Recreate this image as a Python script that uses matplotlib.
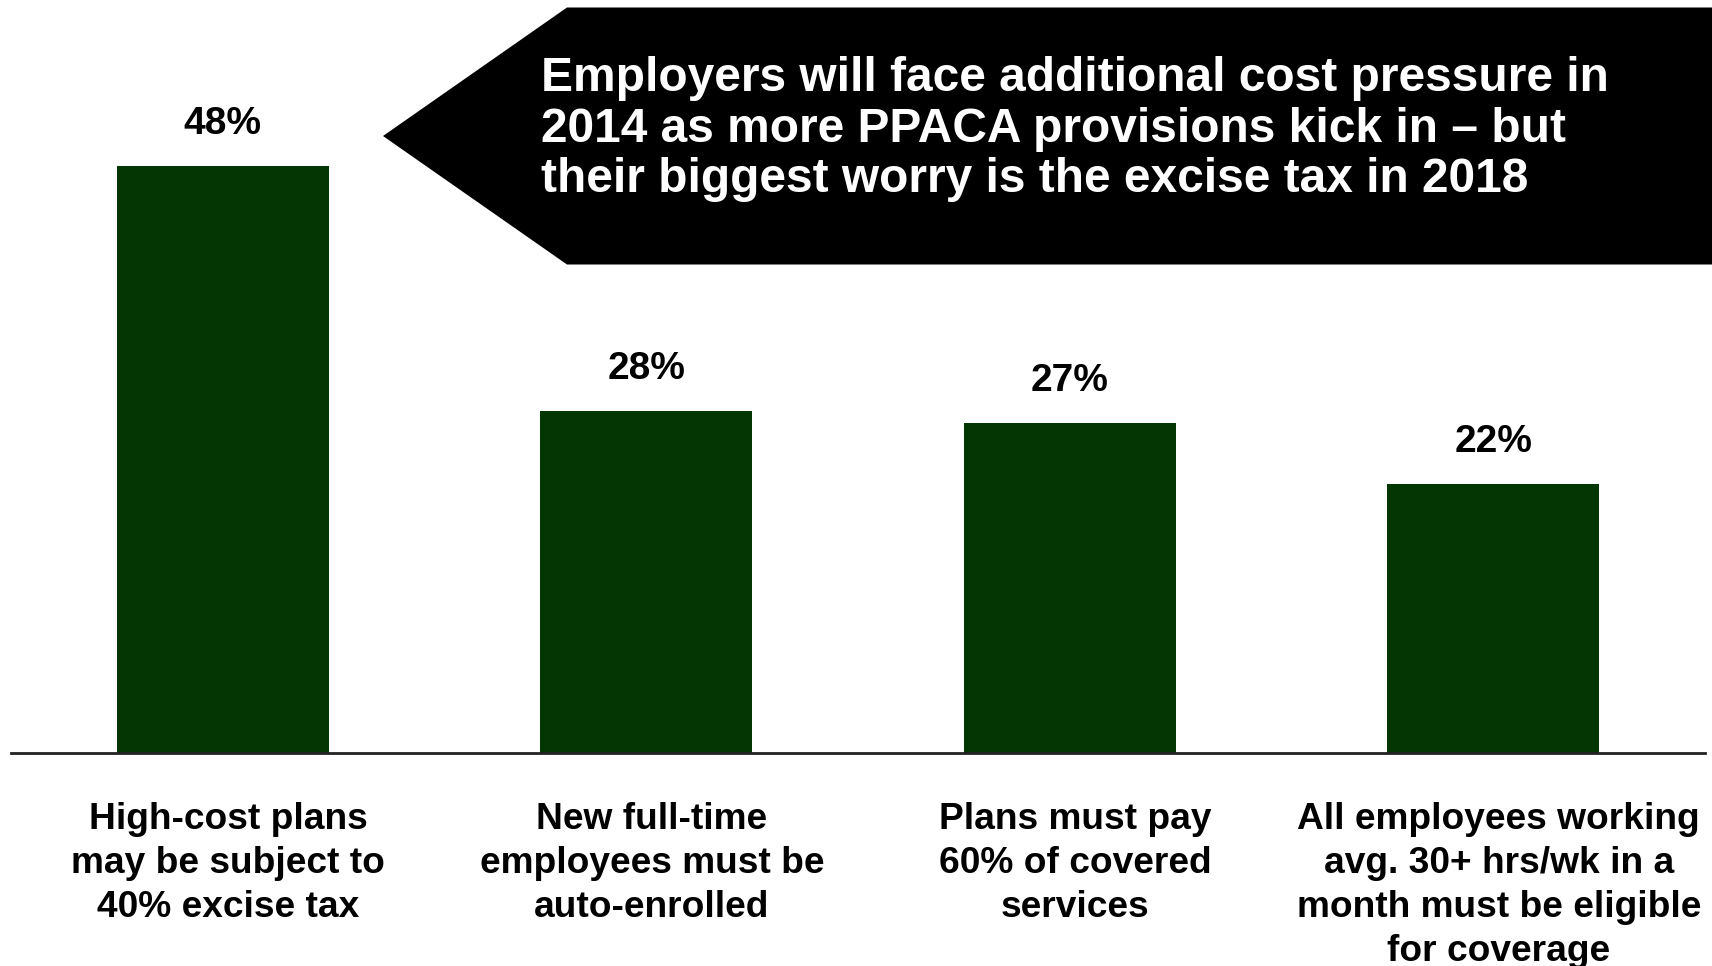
import matplotlib
matplotlib.use("Agg")
import matplotlib.pyplot as plt
from matplotlib.patches import Polygon
from matplotlib.transforms import ScaledTranslation

plt.rcParams['font.family'] = ['Liberation Sans', 'DejaVu Sans']
plt.rcParams['font.weight'] = 'bold'

categories = [
    "High-cost plans\nmay be subject to\n40% excise tax",
    "New full-time\nemployees must be\nauto-enrolled",
    "Plans must pay\n60% of covered\nservices",
    "All employees working\navg. 30+ hrs/wk in a\nmonth must be eligible\nfor coverage",
]
values = [48, 28, 27, 22]
value_labels = ["48%", "28%", "27%", "22%"]
callout = ("Employers will face additional cost pressure in\n"
           "2014 as more PPACA provisions kick in \u2013 but\n"
           "their biggest worry is the excise tax in 2018")

W, H = 1712, 966
fig = plt.figure(figsize=(W / 100, H / 100), dpi=100)
ax = fig.add_axes([11 / W, 1 - 753 / H, 1694 / W, 753 / H])

x = list(range(len(values)))
ax.bar(x, values, width=0.5, color='#033603')
ax.set_xlim(-0.5, 3.5)
ax.set_ylim(0, 753 / 12.23)

for xi, v, lab in zip(x, values, value_labels):
    ax.annotate(lab, (xi, v), xytext=(0, 30), textcoords='offset points',
                ha='center', va='center', fontsize=28, fontweight='bold')

ax.set_xticks(x)
ax.set_xticklabels(categories, fontsize=26.7, fontweight='bold', linespacing=1.333)
ax.tick_params(axis='x', length=0, pad=35)
# labels sit a little right of the bar centres in the original
shift = ScaledTranslation(4 / 72, 0, fig.dpi_scale_trans)
for t in ax.get_xticklabels():
    t.set_transform(t.get_transform() + shift)
ax.set_yticks([])
for s in ['top', 'left', 'right']:
    ax.spines[s].set_visible(False)
ax.spines['bottom'].set_linewidth(2)
ax.spines['bottom'].set_color('#222222')

# callout arrow box
pts = [(383, 136), (567, 7.5), (W, 7.5), (W, 264.5), (567, 264.5)]
poly = Polygon([(px / W, 1 - py / H) for px, py in pts], closed=True,
               facecolor='black', edgecolor='none', transform=fig.transFigure)
fig.add_artist(poly)
fig.text(541 / W, 1 - 129 / H, callout, color='white', fontsize=34.5,
         fontweight='bold', ha='left', va='center', linespacing=1.147)

fig.savefig("out.png", dpi=100)
